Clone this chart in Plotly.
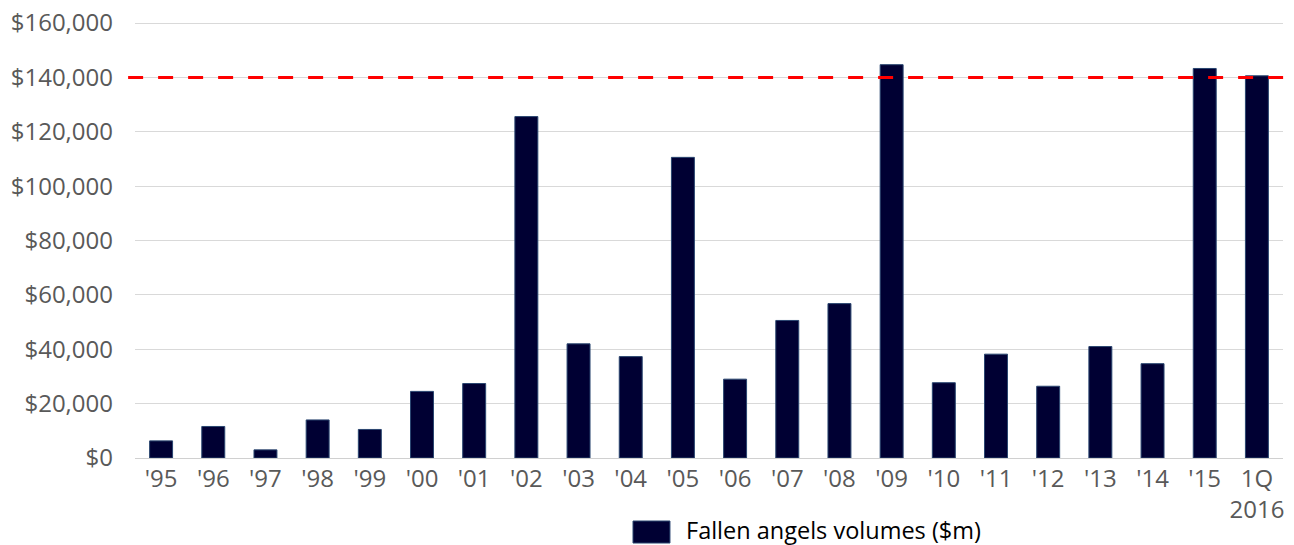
import plotly.graph_objects as go

categories = ["'95", "'96", "'97", "'98", "'99", "'00", "'01", "'02", "'03", "'04", "'05",
              "'06", "'07", "'08", "'09", "'10", "'11", "'12", "'13", "'14", "'15", "1Q<br>2016"]
volumes = [6300, 11600, 3000, 14000, 10500, 24500, 27400, 125600, 42000, 37300, 110600,
           29000, 50600, 56800, 144700, 27700, 38200, 26400, 41000, 34700, 143300, 140600]
series_name = "Fallen angels volumes ($m)"
threshold = 140000
y_ticks = [0, 20000, 40000, 60000, 80000, 100000, 120000, 140000, 160000]
y_tick_labels = ["$0", "$20,000", "$40,000", "$60,000", "$80,000", "$100,000",
                 "$120,000", "$140,000", "$160,000"]

BAR_COLOR = "#000033"

fig = go.Figure()
fig.add_trace(go.Bar(
    x=categories, y=volumes, name=series_name,
    marker=dict(color=BAR_COLOR, line=dict(color="#2a4670", width=1)),
    showlegend=False,
))

# threshold line
fig.add_shape(type="line", xref="paper", yref="y", x0=-0.006, x1=1.012,
              y0=threshold, y1=threshold, layer="above",
              line=dict(color="#ff0000", width=3, dash="15px,15px"))

# legend (large swatch + label)
fig.add_shape(type="rect", xref="paper", yref="paper",
              x0=0.4338, x1=0.4660, y0=-0.1950, y1=-0.1445,
              fillcolor=BAR_COLOR, line=dict(color="#2a4670", width=1))
fig.add_annotation(text=series_name, xref="paper", yref="paper",
                   x=0.4782, y=-0.1640, xanchor="left", yanchor="middle",
                   showarrow=False,
                   font=dict(family="Open Sans", color="#000000", size=23.5))

fig.update_layout(
    width=1294, height=545,
    margin=dict(l=135, r=11, t=22, b=87, autoexpand=False),
    paper_bgcolor="white", plot_bgcolor="white",
    bargap=0.56,
    font=dict(family="Open Sans", color="#595959", size=24),
    showlegend=False,
)
fig.update_xaxes(type="category", range=[-0.5, len(categories) - 0.5],
                 showgrid=False, showline=False, ticks="", ticklabelstandoff=4,
                 ticklabeloverflow="allow",
                 tickfont=dict(family="Open Sans", size=24, color="#595959"))
fig.update_yaxes(range=[0, 160400], tickvals=y_ticks, ticktext=y_tick_labels,
                 showgrid=True, gridcolor="#d9d9d9", gridwidth=1,
                 zeroline=True, zerolinecolor="#d0d0d0", zerolinewidth=1,
                 showline=False, ticks="", ticklabelstandoff=21,
                 ticklabeloverflow="allow",
                 tickfont=dict(family="Open Sans", size=24, color="#595959"))

fig.write_html("out.html",
               config={"displayModeBar": False},
               post_script="document.body.style.margin='0';document.body.style.overflow='hidden';")
